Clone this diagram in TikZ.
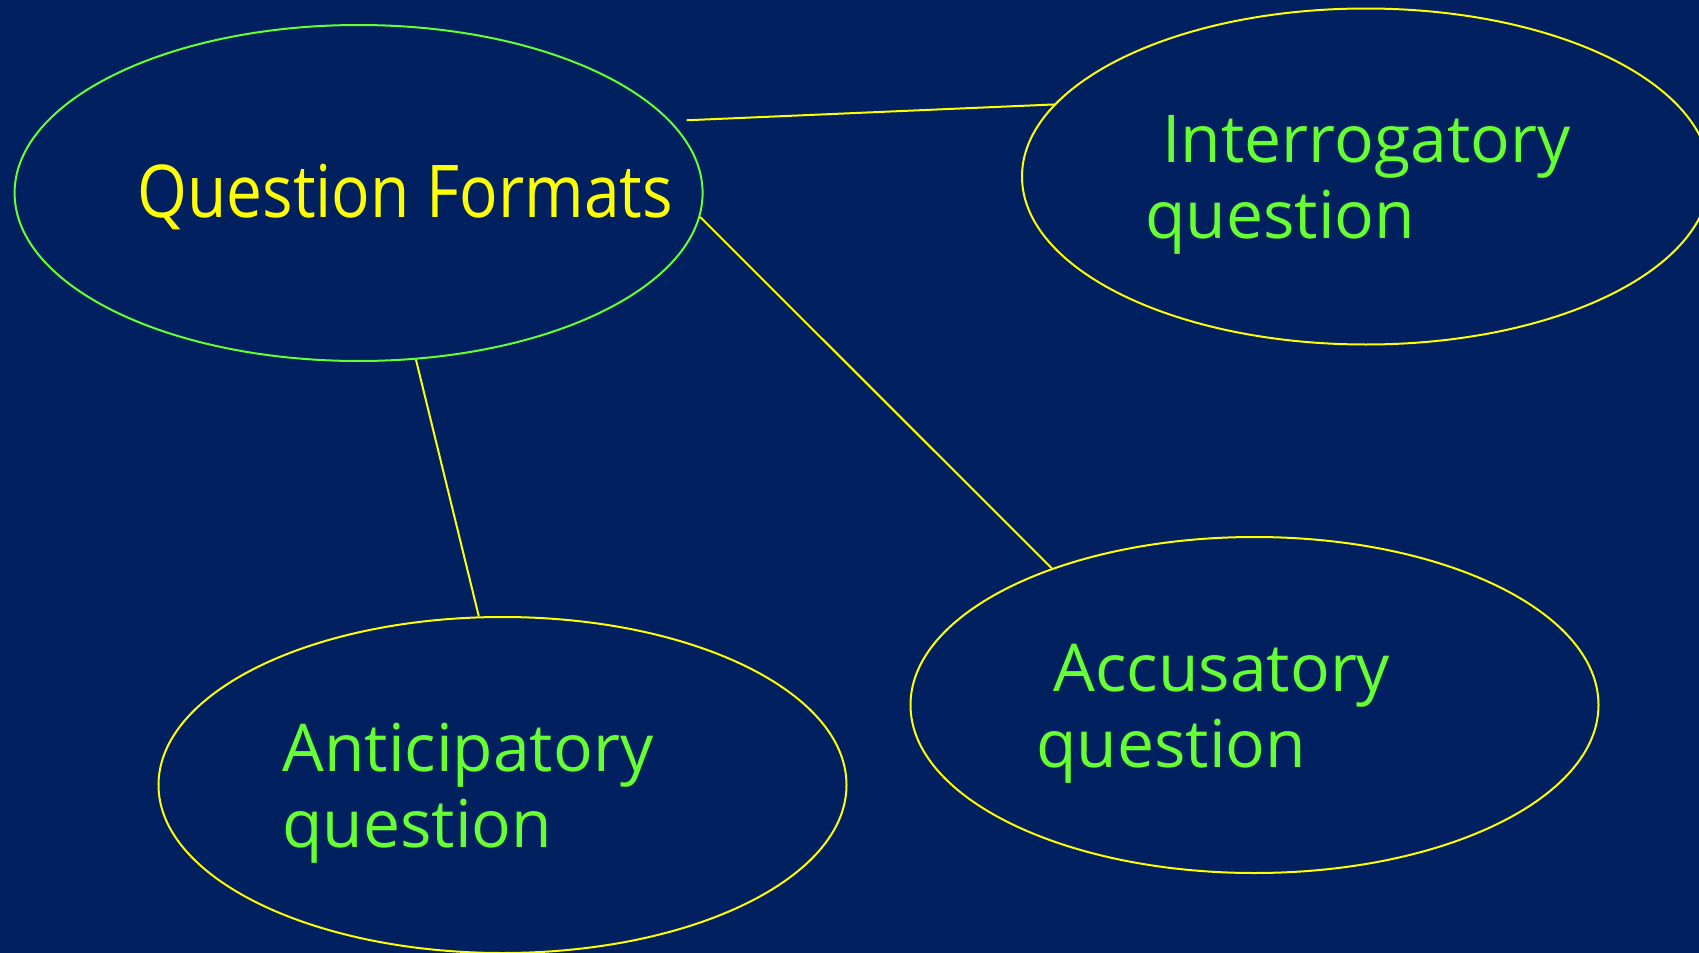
\documentclass[tikz,border=0pt]{standalone}
\usepackage{fontspec}
\newfontfamily\slidefont[FakeStretch=0.88]{Open Sans}
\newfontfamily\topicfont{Open Sans}
\usetikzlibrary{shapes.geometric}
\definecolor{slidebg}{RGB}{0,32,96}
\definecolor{slidegreen}{RGB}{102,255,51}
\definecolor{slideyellow}{RGB}{255,255,0}

\begin{document}
\begin{tikzpicture}[
  x=0.5pt,
  y=-0.5pt,
  bubble/.style={
    ellipse,
    draw=slideyellow,
    line width=1pt,
    minimum width=344pt,
    minimum height=168pt,
    inner sep=0pt
  },
  hub/.style={
    bubble,
    draw=slidegreen
  },
  topic/.style={
    font=\topicfont\fontsize{33}{38}\selectfont,
    text=slidegreen,
    align=left,
    inner sep=0pt
  },
  headline/.style={
    font=\slidefont\fontsize{36.4}{40}\selectfont,
    text=slideyellow,
    inner sep=0pt
  },
  link/.style={draw=slideyellow, line width=1pt}
]

\fill[slidebg] (0,0) rectangle (1699,953);
\useasboundingbox (0,0) rectangle (1699,953);

\node[hub] (formats) at (358.6,193) {};
\node[bubble] (interrog) at (1366,176.5) {};
\node[bubble] (accus) at (1254.5,705) {};
\node[bubble] (anticip) at (502.5,785) {};

\node[headline, anchor=base west] (formatsText) at (137,217) {Question Formats};
\node[topic, anchor=base west] (interrogText) at (1145,238) {\ Interrogatory\\question};
\node[topic, anchor=base west] (accusText) at (1036,767) {\ Accusatory\\question};
\node[topic, anchor=base west] (anticipText) at (282,847) {Anticipatory\\question};

\draw[link, shorten <=8pt] (formats.13.5) -- (interrog.167);
\draw[link] (formats.-4) -- (accus.146);
\draw[link] (formats.-71) -- (anticip.98);

\end{tikzpicture}
\end{document}
